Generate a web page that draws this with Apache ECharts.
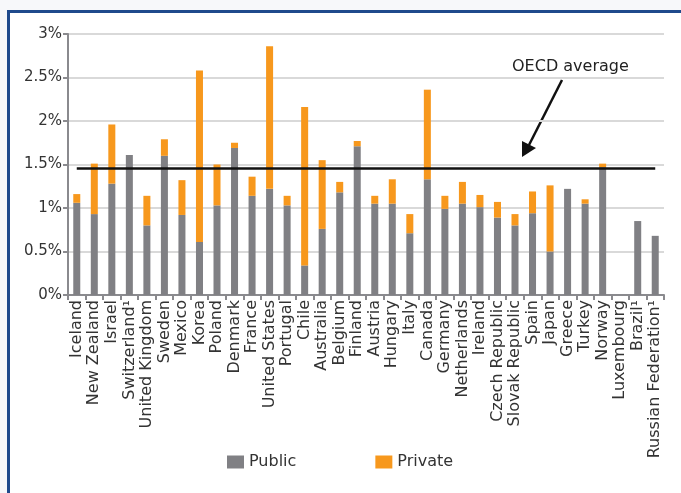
<!DOCTYPE html>
<html>
<head>
<meta charset="utf-8">
<script src="https://cdn.jsdelivr.net/npm/echarts@6/dist/echarts.min.js"></script>
<style>
html, body { margin: 0; padding: 0; background: #fff; }
#chart { width: 681px; height: 493px; }
</style>
</head>
<body>
<div id="chart"></div>
<script>
// 国家 / 分类
var countries = ['Iceland', 'New Zealand', 'Israel', 'Switzerland¹', 'United Kingdom', 'Sweden',
    'Mexico', 'Korea', 'Poland', 'Denmark', 'France', 'United States', 'Portugal', 'Chile',
    'Australia', 'Belgium', 'Finland', 'Austria', 'Hungary', 'Italy', 'Canada', 'Germany',
    'Netherlands', 'Ireland', 'Czech Republic', 'Slovak Republic', 'Spain', 'Japan', 'Greece',
    'Turkey', 'Norway', 'Luxembourg', 'Brazil¹', 'Russian Federation¹'];

// 公共支出 (% of GDP)
var publicVals = [1.06, 0.93, 1.28, 1.61, 0.80, 1.60, 0.92, 0.61, 1.03, 1.69, 1.14, 1.22, 1.03, 0.34,
    0.76, 1.18, 1.71, 1.05, 1.05, 0.71, 1.33, 0.99, 1.05, 1.01, 0.89, 0.80, 0.94, 0.50, 1.22,
    1.05, 1.47, null, 0.85, 0.68];

// 私人支出
var privateVals = [0.10, 0.58, 0.68, null, 0.34, 0.19, 0.40, 1.97, 0.47, 0.06, 0.22, 1.64, 0.11, 1.82,
    0.79, 0.12, 0.06, 0.09, 0.28, 0.22, 1.03, 0.15, 0.25, 0.14, 0.18, 0.13, 0.25, 0.76, null,
    0.05, 0.04, null, null, null];

var oecdAverage = 1.46;

var font = 'DejaVu Sans';

var option = {
    animation: false,
    textStyle: { fontFamily: font },
    grid: { left: 68, right: 17, top: 34, bottom: 198 },
    legend: {
        left: 222,
        top: 449,
        icon: 'rect',
        itemWidth: 17,
        itemHeight: 13,
        itemGap: 79,
        textStyle: { fontSize: 16, color: '#333', fontFamily: font },
        data: ['Public', 'Private']
    },
    xAxis: {
        type: 'category',
        data: countries,
        axisLine: { lineStyle: { color: '#8a8a8e', width: 2 } },
        axisTick: { show: true, length: 5, lineStyle: { color: '#8a8a8e', width: 2 } },
        axisLabel: {
            rotate: 90,
            interval: 0,
            margin: 5,
            fontSize: 16,
            color: '#333',
            fontFamily: font
        }
    },
    yAxis: {
        type: 'value',
        min: 0,
        max: 3,
        interval: 0.5,
        axisLine: { show: true, lineStyle: { color: '#8a8a8e', width: 2 } },
        axisTick: { show: true, length: 5, lineStyle: { color: '#8a8a8e', width: 2 } },
        splitLine: { lineStyle: { color: '#d9d9d9', width: 2 } },
        axisLabel: {
            fontSize: 15,
            color: '#333',
            margin: 6,
            fontFamily: font,
            formatter: function (v) { return v + '%'; }
        }
    },
    series: [
        {
            name: 'Public',
            type: 'bar',
            stack: 'total',
            barWidth: '40%',
            itemStyle: { color: '#808084' },
            data: publicVals,
            markLine: {
                silent: true,
                symbol: 'none',
                label: { show: false },
                lineStyle: { color: '#111', width: 2.5, type: 'solid' },
                data: [[
                    { coord: [countries[0], oecdAverage] },
                    { coord: [countries[countries.length - 1], oecdAverage] }
                ]]
            }
        },
        {
            name: 'Private',
            type: 'bar',
            stack: 'total',
            barWidth: '40%',
            itemStyle: { color: '#f7981d' },
            data: privateVals
        }
    ],
    graphic: [
        // 外框
        { type: 'rect', shape: { x: 0, y: 0, width: 681, height: 10 }, style: { fill: '#f7f8fa' } },
        { type: 'rect', shape: { x: 0, y: 0, width: 7, height: 493 }, style: { fill: '#f7f8fa' } },
        { type: 'line', shape: { x1: 7, y1: 11.5, x2: 681, y2: 11.5 }, style: { stroke: '#1f4a8c', lineWidth: 3 } },
        { type: 'line', shape: { x1: 8.5, y1: 10, x2: 8.5, y2: 493 }, style: { stroke: '#1f4a8c', lineWidth: 3 } },
        // OECD average 注释
        { type: 'text', left: 512, top: 59, style: { text: 'OECD average', font: '16px ' + font, fill: '#222' } },
        { type: 'line', shape: { x1: 562, y1: 80, x2: 529, y2: 145 }, style: { stroke: '#111', lineWidth: 2.5 } },
        { type: 'polygon', shape: { points: [[522, 157], [522, 141], [536, 148]] }, style: { fill: '#111' } }
    ]
};

var chart = echarts.init(document.getElementById('chart'));
chart.setOption(option);
</script>
</body>
</html>
